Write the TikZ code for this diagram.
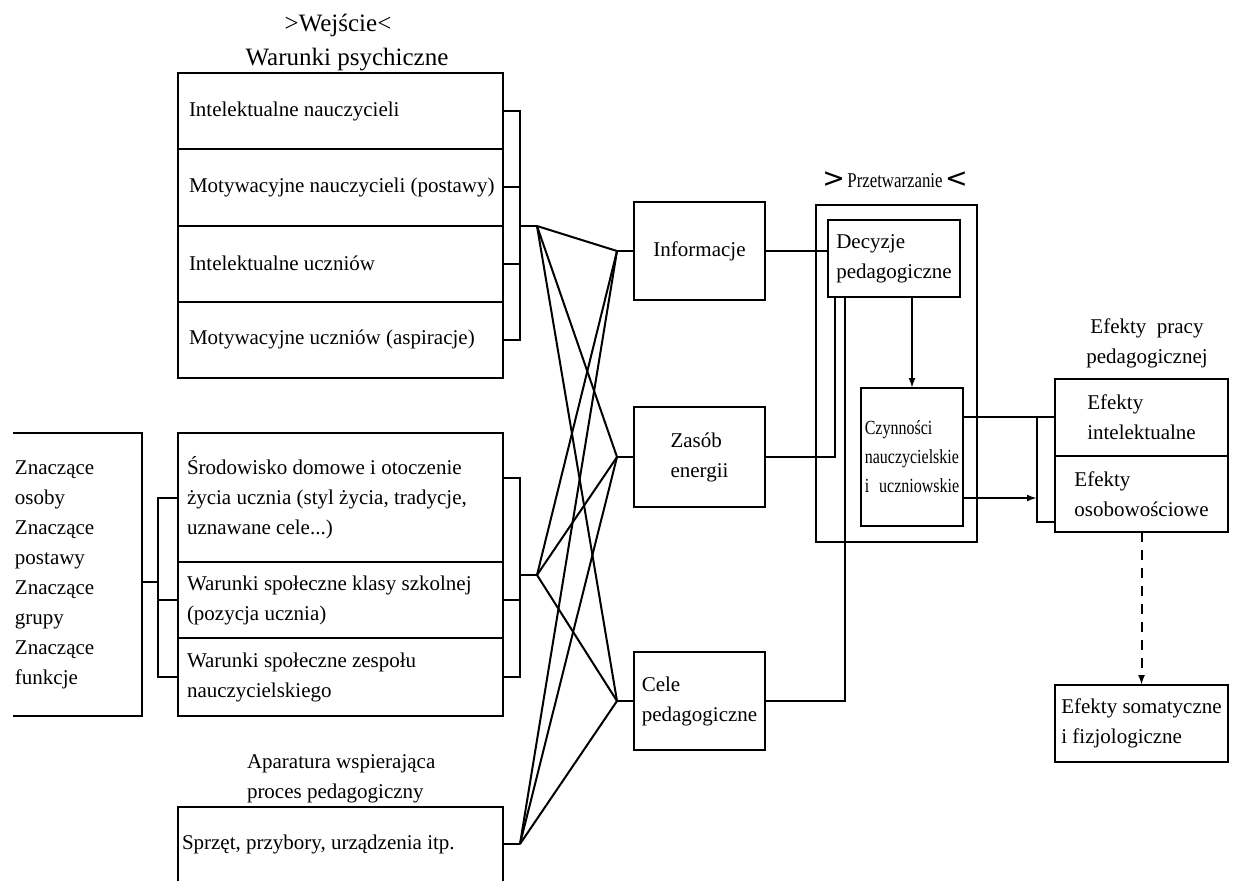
\documentclass[tikz,border=0pt]{standalone}
\usepackage{fontspec}
\setmainfont{Liberation Serif}
\newfontfamily\narrowserif[FakeStretch=0.8]{Liberation Serif}
\newfontfamily\chevronfont{DejaVu Sans}
\usetikzlibrary{arrows.meta}
\newcommand\fsBody{\fontsize{21}{30}\selectfont}
\newcommand\fsTitle{\fontsize{25}{35}\selectfont}
\newcommand\fsSmall{\narrowserif\fontsize{20}{29}\selectfont}

\begin{document}
\begin{tikzpicture}[x=1pt,y=-1pt,line width=2pt,
  every node/.style={inner sep=0pt,outer sep=0pt},
  box/.style={draw,anchor=north west},
  lbl/.style={font=\fsBody,align=left,anchor=west},
  txt/.style={font=\fsBody,align=left},
  tip/.style={-{Latex[length=10pt,width=7pt]}}]
\useasboundingbox (0,0) rectangle (1235,881);

% ---------- input: headings ----------
\node[font=\fsTitle] (wej) at (338,25) {>Wejście<};
\node[font=\fsTitle] (war) at (347,60) {Warunki psychiczne};

% ---------- psychological conditions ----------
\node[box,minimum width=325pt,minimum height=76.25pt,
  label={[lbl,xshift=11pt]west:{Intelektualne nauczycieli}}] (t1) at (178,73) {};
\node[box,minimum width=325pt,minimum height=76.25pt,
  label={[lbl,xshift=11pt]west:{Motywacyjne nauczycieli (postawy)}}] (t2) at (t1.south west) {};
\node[box,minimum width=325pt,minimum height=76.25pt,
  label={[lbl,xshift=11pt]west:{Intelektualne uczniów}}] (t3) at (t2.south west) {};
\node[box,minimum width=325pt,minimum height=76.25pt,
  label={[lbl,xshift=11pt]west:{Motywacyjne uczniów (aspiracje)}}] (t4) at (t3.south west) {};

\draw (t1.east) -- ++(17,0) |- (t4.east);
\draw (t2.east) -- ++(17,0);
\draw (t3.east) -- ++(17,0);
\coordinate (fa) at (537,226);
\draw (fa) -- ++(-17,0);

% ---------- significant others ----------
\node[minimum width=129pt,minimum height=283pt,anchor=north west,
  label={[lbl,xshift=2pt]west:{Znaczące\\osoby\\Znaczące\\postawy\\Znaczące\\grupy\\Znaczące\\funkcje}}] (lbox) at (13,433) {};
\draw (lbox.north west) -- (lbox.north east) -- (lbox.south east) -- (lbox.south west);

% ---------- social conditions ----------
\node[box,minimum width=325pt,minimum height=129pt,
  label={[lbl,xshift=9pt]west:{Środowisko domowe i otoczenie\\życia ucznia (styl życia, tradycje,\\uznawane cele...)}}] (m1) at (178,433) {};
\node[box,minimum width=325pt,minimum height=76pt,
  label={[lbl,xshift=9pt]west:{Warunki społeczne klasy szkolnej\\(pozycja ucznia)}}] (m2) at (m1.south west) {};
\node[box,minimum width=325pt,minimum height=78pt,
  label={[lbl,xshift=9pt]west:{Warunki społeczne zespołu\\nauczycielskiego}}] (m3) at (m2.south west) {};

\draw (m1.west) -- ++(-20,0) |- (m3.west);
\draw (m2.west) -- ++(-20,0);
\draw ([yshift=-7.5pt]lbox.east) -- ++(16,0);

\draw ([yshift=20pt]m1.east) -- ++(17,0) |- (m3.east);
\draw (m2.east) -- ++(17,0);
\coordinate (fb) at (537,575);
\draw (fb) -- ++(-17,0);

% ---------- supporting equipment ----------
\node[lbl] (apar) at (247,779) {Aparatura wspierająca\\proces pedagogiczny};
\node[minimum width=325pt,minimum height=74pt,anchor=north west,
  label={[lbl,xshift=4pt]west:{Sprzęt, przybory, urządzenia itp.}}] (sp) at (178,807) {};
\draw (sp.south west) -- (sp.north west) -- (sp.north east) -- (sp.south east);
\coordinate (fc) at (520,844);
\draw (sp.east) -- (fc);

% ---------- resources ----------
\node[draw,txt,minimum width=131pt,minimum height=98pt] (info) at (699.5,251) {Informacje};
\node[draw,txt,minimum width=131pt,minimum height=100pt] (zas) at (699.5,457) {Zasób\\energii};
\node[draw,txt,minimum width=131pt,minimum height=98pt] (cele) at (699.5,701) {Cele\\pedagogiczne};

\coordinate (gi) at (617,251);
\coordinate (gz) at (617,457);
\coordinate (gc) at (617,701);
\draw (gi) -- (info.west);
\draw (gz) -- (zas.west);
\draw (gc) -- (cele.west);

\foreach \s in {fa,fb,fc}{\foreach \t in {gi,gz,gc}{\draw (\s) -- (\t);}}

% ---------- processing ----------
\node[box,minimum width=161pt,minimum height=337pt] (proc) at (816,205) {};
\node (proclbl) at (895,180) {{\chevronfont\fontsize{27}{30}\selectfont >}\ {\narrowserif\fontsize{21}{24}\selectfont Przetwarzanie}\ {\chevronfont\fontsize{27}{30}\selectfont <}};
\node[box,txt,minimum width=132pt,minimum height=77pt] (dec) at (828,220) {Decyzje\\pedagogiczne};
\node[box,font=\fsSmall,align=left,minimum width=102pt,minimum height=138pt] (czy) at (861,388) {Czynności\\nauczycielskie\\i\enspace uczniowskie};

\draw (info.east) -- (info.east -| dec.west);
\draw (zas.east) -| ([xshift=7pt]dec.south west);
\draw (cele.east) -| ([xshift=17pt]dec.south west);
\draw[tip] (czy.north |- dec.south) -- (czy.north);

% ---------- effects ----------
\node[font=\fsBody,align=center] (eplbl) at (1147,343) {Efekty\enspace pracy\\pedagogicznej};
\node[box,txt,minimum width=173pt,minimum height=77pt] (e1) at (1055,379) {Efekty\\intelektualne};
\node[box,txt,minimum width=173pt,minimum height=76pt] (e2) at (1055,456) {Efekty\\osobowościowe};
\node[box,txt,minimum width=173pt,minimum height=77pt] (som) at (1055,685) {Efekty somatyczne\\i fizjologiczne};

\coordinate (cz1) at ([yshift=40pt]czy.east);
\coordinate (cz2) at ([yshift=-41pt]czy.east);
\coordinate (ein) at ([xshift=-18pt]e1.west);
\coordinate (eb) at ([yshift=10pt]e2.south west);
\draw (cz1) -- (cz1 -| e1.west);
\draw (cz1 -| ein) |- (eb);
\draw[tip] (cz2) -- (cz2 -| ein);
\draw[tip,dash pattern=on 10pt off 8pt] (e2.south) -- (som.north);
\end{tikzpicture}
\end{document}
